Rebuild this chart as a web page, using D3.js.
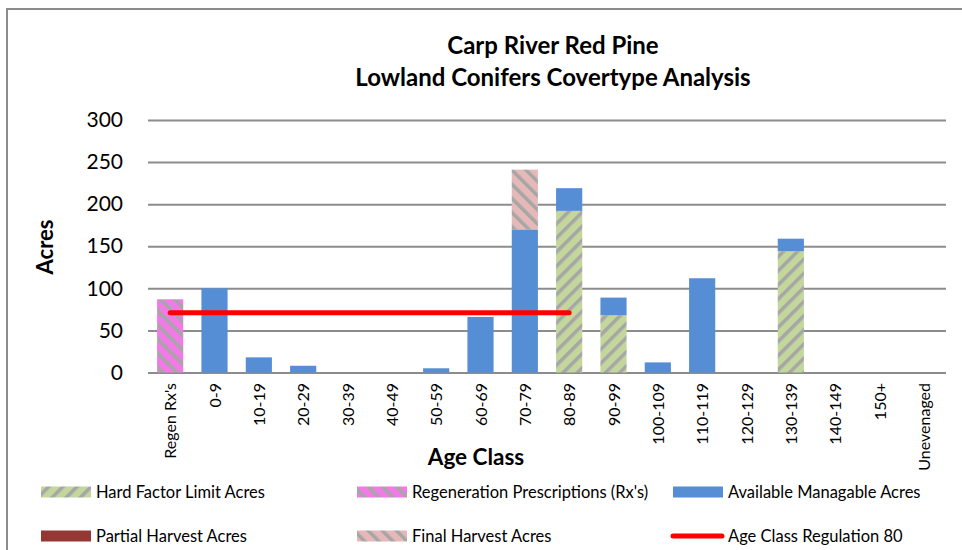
<!DOCTYPE html>
<html lang="en">
<head>
    <meta charset="UTF-8">
    <title>Carp River Red Pine - Lowland Conifers</title>
    <script src="https://d3js.org/d3.v7.min.js"></script>
    <style>
        body { margin: 0; background: #fff; }
        svg { display: block; font-family: Lato, "Open Sans", sans-serif; }
    </style>
</head>
<body>
    <svg width="962" height="550"></svg>
    <script>
        // Data
        const ageClasses = ["Regen Rx's", "0-9", "10-19", "20-29", "30-39", "40-49", "50-59", "60-69",
            "70-79", "80-89", "90-99", "100-109", "110-119", "120-129", "130-139", "140-149", "150+", "Unevenaged"];
        const hardFactor   = [0, 0, 0, 0, 0, 0, 0, 0, 0, 192, 68, 0, 0, 0, 144, 0, 0, 0];
        const regenRx      = [87, 0, 0, 0, 0, 0, 0, 0, 0, 0, 0, 0, 0, 0, 0, 0, 0, 0];
        const available    = [0, 100, 18, 8, 0, 0, 5, 66, 170, 27, 21, 12, 112, 0, 15, 0, 0, 0];
        const partial      = [0, 0, 0, 0, 0, 0, 0, 0, 0, 0, 0, 0, 0, 0, 0, 0, 0, 0];
        const finalHarvest = [0, 0, 0, 0, 0, 0, 0, 0, 71, 0, 0, 0, 0, 0, 0, 0, 0, 0];
        const regulation   = [71, 71, 71, 71, 71, 71, 71, 71, 71, 71, null, null, null, null, null, null, null, null];
        const yTicks = [0, 50, 100, 150, 200, 250, 300];

        const series = [
            { key: "hard", name: "Hard Factor Limit Acres", values: hardFactor, fill: "url(#pHard)" },
            { key: "regen", name: "Regeneration Prescriptions (Rx's)", values: regenRx, fill: "url(#pRegen)" },
            { key: "avail", name: "Available Managable Acres", values: available, fill: "#558ed5" },
            { key: "partial", name: "Partial Harvest Acres", values: partial, fill: "#953735" },
            { key: "final", name: "Final Harvest Acres", values: finalHarvest, fill: "url(#pFinal)" }
        ];

        const svg = d3.select("svg");

        // stripe patterns
        const defs = svg.append("defs");
        function stripes(id, bg, angle) {
            const p = defs.append("pattern")
                .attr("id", id)
                .attr("patternUnits", "userSpaceOnUse")
                .attr("width", 10).attr("height", 10)
                .attr("patternTransform", `rotate(${angle})`);
            p.append("rect").attr("width", 10).attr("height", 10).attr("fill", bg);
            p.append("rect").attr("width", 3.5).attr("height", 10).attr("fill", "#a6a6a6");
        }
        stripes("pHard", "#c3d69b", 45);
        stripes("pRegen", "#f27ae6", -45);
        stripes("pFinal", "#e6b9b8", -45);

        // outer chart border
        svg.append("path")
            .attr("d", "M7,560 L7,9 L970,9")
            .attr("fill", "none")
            .attr("stroke", "#8c8c8c")
            .attr("stroke-width", 2);

        const margin = { top: 120, left: 148, right: 946, bottom: 372.5 };

        const x = d3.scaleBand()
            .domain(ageClasses)
            .range([margin.left, margin.right])
            .paddingInner(0.41)
            .paddingOuter(0.205);
        const y = d3.scaleLinear().domain([0, 300]).range([margin.bottom, margin.top]);

        // title
        const title = svg.append("text")
            .attr("x", 553).attr("text-anchor", "middle")
            .attr("font-weight", "bold").attr("font-size", 24).attr("fill", "#000");
        title.append("tspan").attr("x", 553).attr("y", 54).text("Carp River Red Pine");
        title.append("tspan").attr("x", 553).attr("y", 86).text("Lowland Conifers Covertype Analysis");

        // gridlines + y axis
        const yAxis = svg.append("g")
            .attr("transform", `translate(${margin.left},0)`)
            .call(d3.axisLeft(y).tickValues(yTicks).tickSize(-(margin.right - margin.left)).tickPadding(25));
        yAxis.select(".domain").remove();
        yAxis.selectAll(".tick line").attr("stroke", "#8c8c8c").attr("stroke-width", 2);
        yAxis.selectAll(".tick text").attr("font-size", 21).attr("fill", "#000")
            .attr("font-family", "Lato, sans-serif");

        // stacked bars
        const rows = ageClasses.map((c, i) => {
            const r = { cls: c };
            series.forEach(s => r[s.key] = s.values[i]);
            return r;
        });
        const stack = d3.stack().keys(series.map(s => s.key))(rows);

        svg.append("g").selectAll("g")
            .data(stack)
            .join("g")
            .attr("fill", (d, i) => series[i].fill)
            .selectAll("rect")
            .data(d => d.filter(v => v[1] - v[0] > 0))
            .join("rect")
            .attr("x", d => x(d.data.cls))
            .attr("width", x.bandwidth())
            .attr("y", d => y(d[1]))
            .attr("height", d => y(d[0]) - y(d[1]));

        // regulation line
        const line = d3.line()
            .defined(d => d.v != null)
            .x(d => x(d.cls) + x.bandwidth() / 2)
            .y(d => y(d.v));
        svg.append("path")
            .datum(ageClasses.map((c, i) => ({ cls: c, v: regulation[i] })))
            .attr("d", line)
            .attr("fill", "none")
            .attr("stroke", "#ff0000")
            .attr("stroke-width", 5)
            .attr("stroke-linecap", "round");

        // x axis labels
        svg.append("g").selectAll("text")
            .data(ageClasses)
            .join("text")
            .attr("transform", d => `translate(${x(d) + x.bandwidth() / 2 + 6},383) rotate(-90)`)
            .attr("text-anchor", "end")
            .attr("font-size", 16)
            .attr("fill", "#000")
            .text(d => d);

        // axis titles
        svg.append("text")
            .attr("transform", "translate(53,247) rotate(-90)")
            .attr("text-anchor", "middle")
            .attr("font-weight", "bold").attr("font-size", 22)
            .text("Acres");
        svg.append("text")
            .attr("x", 476).attr("y", 465)
            .attr("text-anchor", "middle")
            .attr("font-weight", "bold").attr("font-size", 22.5)
            .text("Age Class");

        // legend
        const legendItems = [
            { name: series[0].name, fill: series[0].fill, col: 0, row: 0 },
            { name: series[1].name, fill: series[1].fill, col: 1, row: 0 },
            { name: series[2].name, fill: series[2].fill, col: 2, row: 0 },
            { name: series[3].name, fill: series[3].fill, col: 0, row: 1 },
            { name: series[4].name, fill: series[4].fill, col: 1, row: 1 },
            { name: "Age Class Regulation 80", line: true, col: 2, row: 1 }
        ];
        const colX = [41, 357, 673];
        const rowY = [492, 536];
        const lg = svg.append("g").selectAll("g")
            .data(legendItems)
            .join("g")
            .attr("transform", d => `translate(${colX[d.col]},${rowY[d.row]})`);
        lg.filter(d => !d.line).append("rect")
            .attr("x", 0).attr("y", -5.5).attr("width", 50).attr("height", 11)
            .attr("fill", d => d.fill);
        lg.filter(d => d.line).append("line")
            .attr("x1", 0).attr("x2", 49).attr("y1", 0).attr("y2", 0)
            .attr("stroke", "#ff0000").attr("stroke-width", 5).attr("stroke-linecap", "round");
        lg.append("text")
            .attr("x", 55)
            .attr("y", 0).attr("dy", "0.35em")
            .attr("font-size", 16.5).attr("fill", "#000")
            .text(d => d.name);
    </script>
</body>
</html>
